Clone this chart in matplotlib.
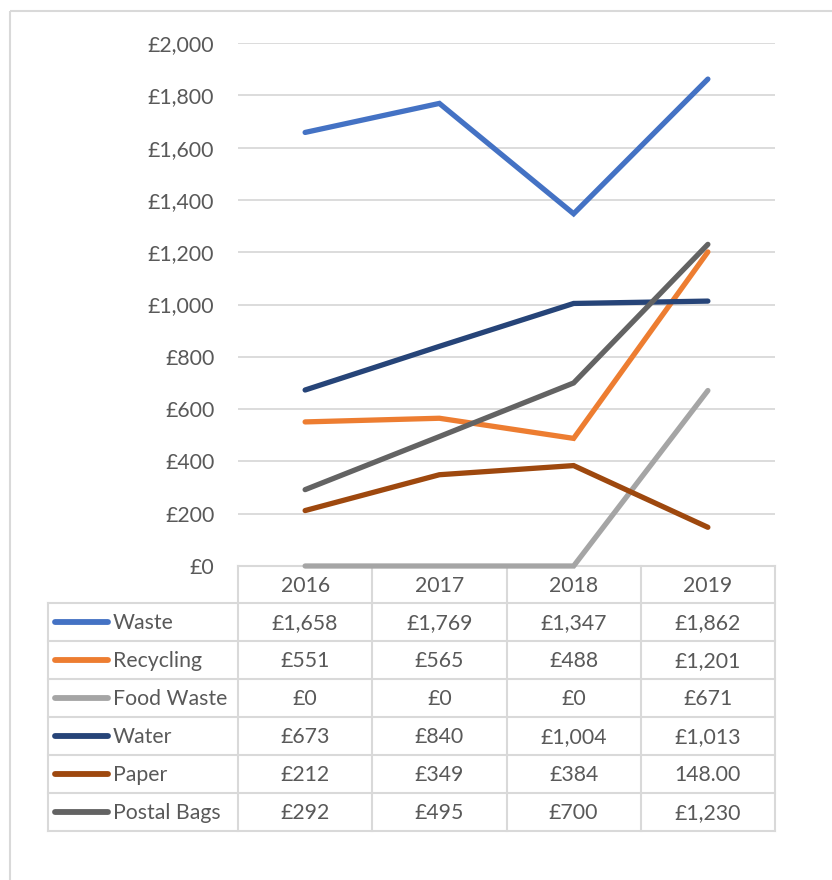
import matplotlib
matplotlib.use("Agg")
import matplotlib.pyplot as plt
from matplotlib.lines import Line2D
from matplotlib.patches import Rectangle

years = ["2016", "2017", "2018", "2019"]
series = ["Waste", "Recycling", "Food Waste", "Water", "Paper", "Postal Bags"]
waste = [1658, 1769, 1347, 1862]
recycling = [551, 565, 488, 1201]
food_waste = [0, 0, 0, 671]
water = [673, 840, 1004, 1013]
paper = [212, 349, 384, 148]
postal_bags = [292, 495, 700, 1230]
# the table shows the 2019 paper figure without the currency format
paper_2019_label = "148.00"
y_ticks = [0, 200, 400, 600, 800, 1000, 1200, 1400, 1600, 1800, 2000]

colors = ["#4472C4", "#ED7D31", "#A5A5A5", "#264478", "#9E480E", "#636363"]
values = [waste, recycling, food_waste, water, paper, postal_bags]

W, H = 832, 880
TXT = "#595959"
GRID = "#D9D9D9"
FONT = "Lato"
FS = 15.3
plt.rcParams["font.family"] = [FONT, "DejaVu Sans"]


def money(v):
    return f"£{v:,.0f}"


fig = plt.figure(figsize=(W / 100, H / 100), dpi=100)

# plot area (pixel box from the reference)
x0, x1, ytop, ybot = 238, 775, 43, 566
ax = fig.add_axes([x0 / W, 1 - ybot / H, (x1 - x0) / W, (ybot - ytop) / H])
ax.set_zorder(2)
ax.set_xlim(-0.5, len(years) - 0.5)
ax.set_ylim(0, 2000)
for t in y_ticks[1:]:
    ax.axhline(t, color=GRID, lw=1.3, zorder=0)
for s in ax.spines.values():
    s.set_visible(False)
ax.set_xticks([])
ax.set_yticks(y_ticks)
ax.set_yticklabels([money(t) for t in y_ticks], color=TXT, fontsize=FS)
ax.tick_params(axis="y", length=0, pad=17)
ax.patch.set_alpha(0)

xs = list(range(len(years)))
for name, vals, c in zip(series, values, colors):
    ax.plot(xs, vals, color=c, lw=3.8, solid_capstyle="round",
            solid_joinstyle="miter", zorder=3, clip_on=False)

# data table drawn under the plot, in pixel coordinates
tab = fig.add_axes([0, 0, 1, 1])
tab.set_zorder(1)
tab.set_xlim(0, W)
tab.set_ylim(H, 0)
tab.axis("off")
tab.patch.set_alpha(0)

# outer chart border
tab.add_patch(Rectangle((10, 11), W, H, fill=False, ec=GRID, lw=1.5))

col_w = (x1 - x0) / len(years)
row_h = 38
lab_x = 48
head_top = ybot
rows_top = head_top + 37
rows_bot = rows_top + row_h * len(series)

lk = dict(color=GRID, lw=1.5, zorder=1)
tab.add_line(Line2D([x0, x1], [head_top, head_top], **lk))
for i in range(len(series) + 1):
    y = rows_top + i * row_h
    tab.add_line(Line2D([lab_x, x1], [y, y], **lk))
tab.add_line(Line2D([lab_x, lab_x], [rows_top, rows_bot], **lk))
for j in range(len(years) + 1):
    x = x0 + j * col_w
    tab.add_line(Line2D([x, x], [head_top, rows_bot], **lk))

for j, yr in enumerate(years):
    tab.text(x0 + (j + 0.5) * col_w, (head_top + rows_top) / 2 + 1, yr,
             ha="center", va="center", color=TXT, fontsize=FS)

for i, (name, vals, c) in enumerate(zip(series, values, colors)):
    yc = rows_top + (i + 0.5) * row_h
    tab.add_line(Line2D([55, 108], [yc, yc], color=c, lw=4.2,
                        solid_capstyle="round"))
    tab.text(113, yc + 1, name, ha="left", va="center", color=TXT, fontsize=FS)
    for j, v in enumerate(vals):
        lbl = money(v)
        if name == "Paper" and j == len(years) - 1:
            lbl = paper_2019_label
        tab.text(x0 + (j + 0.5) * col_w, yc + 1, lbl, ha="center",
                 va="center", color=TXT, fontsize=FS)

fig.savefig("out.png", dpi=100, facecolor="white")
